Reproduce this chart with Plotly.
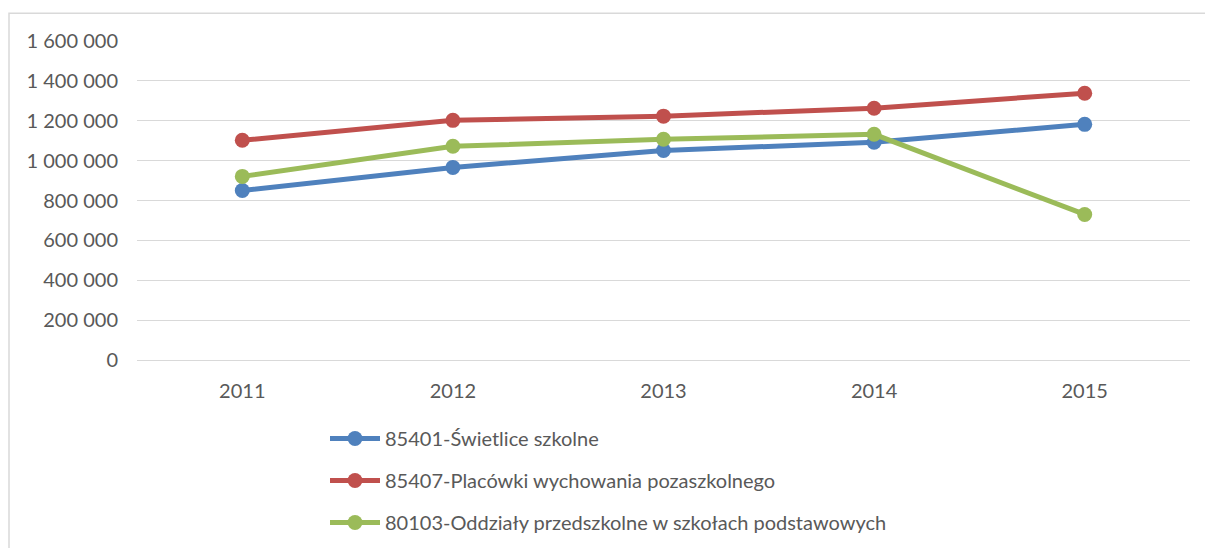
import plotly.graph_objects as go

years = ["2011", "2012", "2013", "2014", "2015"]
swietlice = [850000, 966000, 1051000, 1092000, 1182000]
placowki = [1102000, 1202000, 1223000, 1263000, 1338000]
oddzialy = [921000, 1072000, 1107000, 1132000, 730000]

names = [
    "85401-Świetlice szkolne",
    "85407-Placówki wychowania pozaszkolnego",
    "80103-Oddziały przedszkolne w szkołach podstawowych",
]
colors = ["#4f81bd", "#c0504d", "#9bbb59"]
series = [swietlice, placowki, oddzialy]

fig = go.Figure()
for i, (n, c, v) in enumerate(zip(names, colors, series)):
    fig.add_trace(go.Scatter(
        x=years, y=v, name=n, mode="lines+markers",
        line=dict(color=c, width=5),
        marker=dict(color=c, size=15),
        legendgroup=str(i),
    ))

fig.update_layout(
    width=1205, height=548,
    margin=dict(l=137, r=15, t=41, b=188),
    paper_bgcolor="white", plot_bgcolor="white",
    separators=", ",
    font=dict(family="Lato, Calibri, sans-serif", size=20, color="#595959"),
    showlegend=True,
    legend=dict(
        orientation="v", x=(325 - 137) / 1053, xanchor="left",
        yref="container", y=(548 - 419) / 548, yanchor="top",
        tracegroupgap=13, itemwidth=50, font=dict(size=20, color="#595959"),
        bgcolor="rgba(0,0,0,0)",
    ),
    xaxis=dict(
        type="category", range=[-0.5, 4.5], showgrid=False,
        showline=True, linecolor="#d9d9d9", linewidth=1,
        ticks="", ticklabelstandoff=13, zeroline=False,
    ),
    yaxis=dict(
        range=[0, 1600000], dtick=200000, tickformat=",d",
        showgrid=True, gridcolor="#d9d9d9", gridwidth=1,
        zeroline=False, showline=False, ticks="", ticklabelstandoff=18,
    ),
    shapes=[dict(
        type="rect", xref="paper", yref="paper",
        x0=(9 - 137) / 1053, x1=(1215 - 137) / 1053,
        y0=(360 - 560) / 318.3, y1=(360 - 14) / 318.3,
        line=dict(color="#d9d9d9", width=1.5), fillcolor="rgba(0,0,0,0)",
        layer="below",
    )],
)

fig.write_html("out.html")
